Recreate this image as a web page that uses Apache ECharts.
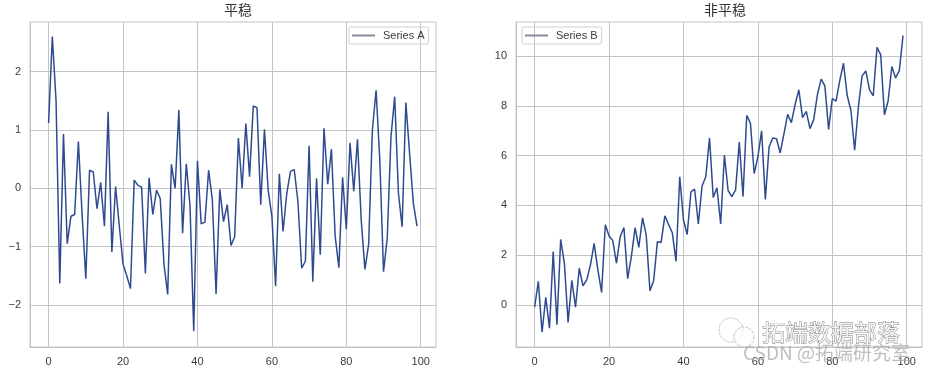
<!DOCTYPE html>
<html>
<head>
<meta charset="utf-8">
<style>
  html, body { margin: 0; padding: 0; background: #fff; }
  #chart { width: 929px; height: 374px; }
</style>
</head>
<body>
<div id="chart"></div>
<script src="https://cdn.jsdelivr.net/npm/echarts@6/dist/echarts.min.js"></script>
<script>
const seriesA = [1.12, 2.6, 1.5, -1.63, 0.93, -0.95, -0.48, -0.45, 0.8, -0.45,
  -1.55, 0.31, 0.28, -0.35, 0.1, -0.65, 1.31, -1.09, 0.03, -0.65,
  -1.3, -1.5, -1.72, 0.14, 0.05, 0.02, -1.46, 0.18, -0.45, -0.03,
  -0.18, -1.3, -1.82, 0.41, 0.0, 1.34, -0.77, 0.42, -0.3, -2.45,
  0.47, -0.61, -0.58, 0.31, -0.2, -1.81, -0.02, -0.57, -0.28, -0.98,
  -0.83, 0.86, 0.0, 1.11, 0.2, 1.41, 1.38, -0.28, 1.01, -0.03,
  -0.48, -1.68, 0.25, -0.74, -0.09, 0.29, 0.32, -0.23, -1.37, -1.25,
  0.73, -1.6, 0.17, -1.14, 1.03, 0.07, 0.67, -0.82, -1.36, 0.19,
  -0.7, 0.78, -0.05, 0.84, -0.54, -1.39, -0.96, 0.99, 1.68, 0.48,
  -1.43, -0.85, 0.88, 1.57, -0.08, -0.66, 1.47, 0.6, -0.25, -0.65];
const seriesB = [-0.1, 0.94, -1.1, 0.3, -0.94, 2.14, -0.8, 2.63, 1.67, -0.71,
  0.98, -0.1, 1.47, 0.76, 1.0, 1.6, 2.47, 1.4, 0.5, 3.22,
  2.77, 2.58, 1.67, 2.74, 3.11, 1.05, 1.94, 3.1, 2.31, 3.5,
  2.8, 0.56, 0.98, 2.54, 2.51, 3.58, 3.23, 2.9, 1.74, 5.15,
  3.41, 2.83, 4.54, 4.65, 3.25, 4.78, 5.15, 6.71, 4.32, 4.71,
  3.25, 6.02, 4.59, 4.35, 4.61, 6.55, 4.35, 7.62, 7.31, 5.28,
  5.95, 7.0, 4.24, 6.35, 6.71, 6.68, 6.11, 6.88, 7.66, 7.33,
  8.06, 8.65, 7.53, 7.78, 7.09, 7.45, 8.46, 9.08, 8.81, 7.06,
  8.3, 8.2, 9.02, 9.72, 8.42, 7.82, 6.22, 7.95, 9.21, 9.41,
  8.65, 8.41, 10.36, 10.07, 7.65, 8.2, 9.59, 9.13, 9.42, 10.83];
const xTicks = [0, 20, 40, 60, 80, 100];
const yTicksA = [-2, -1, 0, 1, 2];
const yTicksB = [0, 2, 4, 6, 8, 10];

const gridColor = '#c3c3c6';
const textColor = '#3a3a3a';
const lineColor = '#2f4b8f';
const latin = '"Liberation Sans", Arial, sans-serif';
const cjk = '"Noto Sans CJK SC", sans-serif';

function makeAxis(ticks, min, max) {
  return {
    type: 'value',
    min: min,
    max: max,
    axisLine: { show: true, onZero: false, lineStyle: { color: gridColor, width: 1 } },
    axisTick: { show: false, customValues: ticks },
    axisLabel: {
      customValues: ticks,
      margin: 9,
      color: textColor,
      fontSize: 11,
      fontFamily: latin,
      formatter: function (v) { return String(v).replace('-', '\u2212'); }
    },
    splitLine: { show: true, lineStyle: { color: gridColor, width: 1 } }
  };
}

function makeLegend(name, left) {
  return {
    data: [name],
    left: left,
    top: 27,
    orient: 'vertical',
    padding: [3, 4, 3, 3],
    itemWidth: 23,
    itemHeight: 12,
    itemGap: 0,
    icon: 'path://M0,5 L23,5 L23,7 L0,7 Z',
    borderColor: '#d0d0d0',
    borderWidth: 1,
    borderRadius: 2,
    itemStyle: { color: '#858b96' },
    textStyle: { color: textColor, fontSize: 11, fontFamily: latin, padding: [0, 0, 0, 3] }
  };
}

function makeLine(name, values, index) {
  return {
    name: name,
    type: 'line',
    xAxisIndex: index,
    yAxisIndex: index,
    data: values.map(function (v, i) { return [i, v]; }),
    showSymbol: false,
    lineStyle: { color: lineColor, width: 1.5 },
    itemStyle: { color: lineColor },
    animation: false
  };
}

const chart = echarts.init(document.getElementById('chart'));
chart.setOption({
  backgroundColor: '#fff',
  animation: false,
  title: [
    { text: '平稳', left: 233, top: -2, textAlign: 'center',
      textStyle: { fontFamily: cjk, fontSize: 14, fontWeight: 'normal', color: '#333' } },
    { text: '非平稳', left: 720, top: -2, textAlign: 'center',
      textStyle: { fontFamily: cjk, fontSize: 14, fontWeight: 'normal', color: '#333' } }
  ],
  grid: [
    { show: true, borderColor: gridColor, borderWidth: 1, left: 30, top: 22, width: 406, height: 325 },
    { show: true, borderColor: gridColor, borderWidth: 1, left: 516, top: 22, width: 406, height: 325 }
  ],
  xAxis: [
    Object.assign(makeAxis(xTicks, -5, 104.1), { gridIndex: 0 }),
    Object.assign(makeAxis(xTicks, -5, 104.1), { gridIndex: 1 })
  ],
  yAxis: [
    Object.assign(makeAxis(yTicksA, -2.72, 2.85), { gridIndex: 0 }),
    Object.assign(makeAxis(yTicksB, -1.7, 11.38), { gridIndex: 1 })
  ],
  legend: [makeLegend('Series A', 349), makeLegend('Series B', 522)],
  series: [makeLine('Series A', seriesA, 0), makeLine('Series B', seriesB, 1)],
  graphic: [
    // 水印
    { type: 'circle', shape: { cx: 731, cy: 330, r: 12 }, z: 50,
      style: { fill: 'rgba(255,255,255,0.6)', stroke: '#c4c4c4', lineWidth: 1, lineDash: [3, 1] } },
    { type: 'circle', shape: { cx: 744, cy: 337, r: 10 }, z: 51,
      style: { fill: 'rgba(255,255,255,0.6)', stroke: '#c4c4c4', lineWidth: 1, lineDash: [3, 1] } },
    { type: 'text', x: 762, y: 321, z: 52,
      style: { text: '拓端数据部落', font: '23px "Noto Sans CJK SC"', fill: '#f4f4f4', stroke: '#777', lineWidth: 0.8 } },
    { type: 'text', x: 743, y: 343, z: 52,
      style: { text: 'CSDN @拓端研究室', font: '19px "Noto Sans CJK SC"', fill: 'rgba(170,170,170,0.75)' } }
  ]
});
</script>
</body>
</html>
